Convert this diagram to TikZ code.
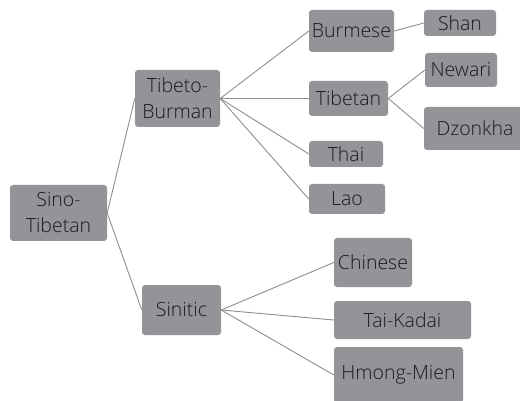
\documentclass[tikz,border=0pt]{standalone}
\usepackage{fontspec}
\setmainfont{Open Sans Light}
\definecolor{boxfill}{HTML}{939398}
\definecolor{edgecol}{HTML}{8E8E8E}
\definecolor{txt}{HTML}{1A1A1A}
\begin{document}
\begin{tikzpicture}[x=1pt,y=-1pt,
  lang/.style={draw=none, fill=boxfill, rounded corners=3pt, inner sep=0pt,
    text=txt, align=center, font=\fontsize{19.5}{26}\selectfont},
  link/.style={draw=edgecol, line width=0.9pt}]
\useasboundingbox (0,0) rectangle (520,401);
\clip (0,0) rectangle (520,401);
\node[lang, minimum width=97pt, minimum height=56pt] (st) at (58.5,213) {Sino-\\Tibetan};
\node[lang, minimum width=85pt, minimum height=57pt] (tb) at (177.5,98.5) {Tibeto-\\Burman};
\node[lang, minimum width=79pt, minimum height=50pt] (sin) at (181.5,310) {Sinitic};
\node[lang, minimum width=85pt, minimum height=42pt] (bur) at (351.5,31) {Burmese};
\node[lang, minimum width=72pt, minimum height=26pt] (shan) at (460,23) {Shan};
\node[lang, minimum width=72pt, minimum height=34pt] (new) at (461,70) {Newari};
\node[lang, minimum width=79pt, minimum height=35pt] (tib) at (348.5,98.5) {Tibetan};
\node[lang, minimum width=102pt, minimum height=43pt] (dzo) at (475,128.5) {Dzonkha};
\node[lang, minimum width=74pt, minimum height=26pt] (thai) at (346,154) {Thai};
\node[lang, minimum width=76pt, minimum height=30pt] (lao) at (347,199) {Lao};
\node[lang, minimum width=78pt, minimum height=49pt] (chi) at (373,262.5) {Chinese};
\node[lang, minimum width=137pt, minimum height=38pt] (tk) at (402.5,320) {Tai-Kadai};
\node[lang, minimum width=129pt, minimum height=56pt] (hm) at (398.5,375) {Hmong-Mien};
\draw[link] (st.east) -- (tb.west);
\draw[link] (st.east) -- (sin.west);
\draw[link] (tb.east) -- (bur.west);
\draw[link] (tb.east) -- (tib.west);
\draw[link] (tb.east) -- (thai.west);
\draw[link] (tb.east) -- (lao.west);
\draw[link] (bur.east) -- (shan.west);
\draw[link] (tib.east) -- (new.west);
\draw[link] (tib.east) -- (dzo.west);
\draw[link] (sin.east) -- (chi.west);
\draw[link] (sin.east) -- (tk.west);
\draw[link] (sin.east) -- (hm.west);
\end{tikzpicture}
\end{document}
